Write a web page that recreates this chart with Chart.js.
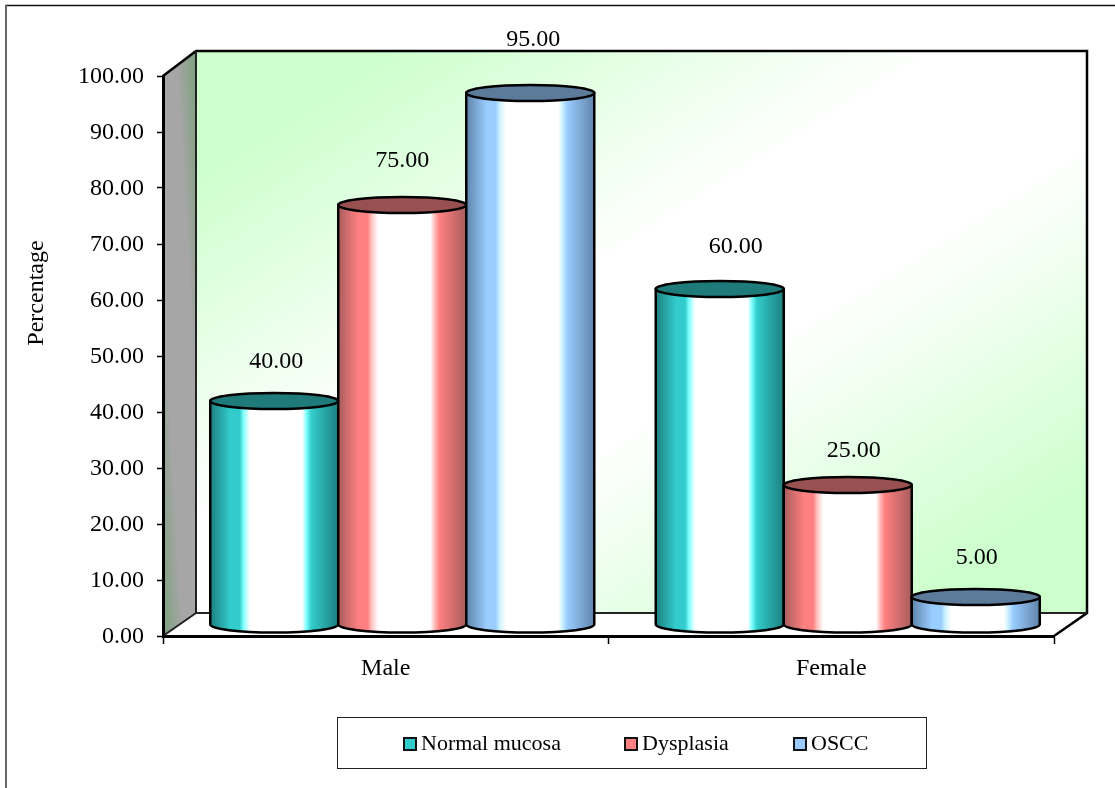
<!DOCTYPE html>
<html>
<head>
<meta charset="utf-8">
<title>Percentage by sex</title>
<script src="https://cdn.jsdelivr.net/npm/chart.js@4"></script>
<style>
    body { margin: 0; background: #fff; }
    canvas { display: block; }
</style>
</head>
<body>
<canvas id="chart" width="1115" height="788"></canvas>
<script>
// Data
const categories = ["Male", "Female"]
const seriesNames = ["Normal mucosa", "Dysplasia", "OSCC"]
const normalMucosa = [40, 60]
const dysplasia = [75, 25]
const oscc = [95, 5]

// Colours per series, same order as seriesNames
const mainColors = ["#33cccc", "#ff8080", "#99ccff"]
const edgeColors = ["#1d7f7f", "#a85c5c", "#5f84aa"]
const lightColors = ["#80ffff", "#ffc0c0", "#ccf2ff"]
const capColors = ["#1f7a7a", "#995050", "#5c7a99"]

const serif = "'Liberation Serif', 'Times New Roman', serif"
const fontSize = 24

// 3D box: how far the back wall sits from the front axes
const depthX = 33
const depthY = 24
const capRadius = 8

// Small nudges of the value labels, per dataset then per category
const labelShiftX = [[2, 16], [0, 6], [3, 1]]
const labelGap = [39, 44, 53, 42, 34, 39]

const drawWalls = (chart) => {
    const { ctx, chartArea: { left, right, top, bottom } } = chart
    const backLeft = left + depthX
    const backRight = right + depthX
    const backTop = top - depthY - 1
    const backBottom = bottom - depthY + 1

    ctx.save()

    // outer frame, only top and left show
    ctx.strokeStyle = "#111"
    ctx.lineWidth = 1.5
    ctx.beginPath()
    ctx.moveTo(5, 5.5)
    ctx.lineTo(1115, 5.5)
    ctx.stroke()
    ctx.strokeStyle = "#666"
    ctx.lineWidth = 2
    ctx.beginPath()
    ctx.moveTo(6, 5)
    ctx.lineTo(6, 788)
    ctx.stroke()

    // back wall, diagonal green - white - green
    ctx.save()
    ctx.translate(backLeft, backTop)
    ctx.scale(backRight - backLeft, backBottom - backTop)
    const wall = ctx.createLinearGradient(0, 0, 1, 1)
    wall.addColorStop(0, "#ccffcc")
    wall.addColorStop(0.1, "#ccffcc")
    wall.addColorStop(0.42, "#ffffff")
    wall.addColorStop(0.58, "#ffffff")
    wall.addColorStop(0.9, "#ccffcc")
    wall.addColorStop(1, "#ccffcc")
    ctx.fillStyle = wall
    ctx.fillRect(0, 0, 1, 1)
    ctx.restore()

    // floor
    ctx.fillStyle = "#fff"
    ctx.beginPath()
    ctx.moveTo(left, bottom)
    ctx.lineTo(right, bottom)
    ctx.lineTo(backRight, backBottom)
    ctx.lineTo(backLeft, backBottom)
    ctx.closePath()
    ctx.fill()

    // side wall, gradient stretched over its bounding box
    ctx.save()
    ctx.beginPath()
    ctx.moveTo(left, top)
    ctx.lineTo(backLeft, backTop)
    ctx.lineTo(backLeft, backBottom)
    ctx.lineTo(left, bottom)
    ctx.closePath()
    ctx.clip()
    ctx.translate(left, backTop)
    ctx.scale(depthX, bottom - backTop)
    const side = ctx.createLinearGradient(1, 0, 0, 1)
    side.addColorStop(0, "#7ba07b")
    side.addColorStop(0.3, "#a6a6a6")
    side.addColorStop(0.7, "#a6a6a6")
    side.addColorStop(1, "#7ba07b")
    ctx.fillStyle = side
    ctx.fillRect(0, 0, 1, 1)
    ctx.restore()

    // box outlines
    ctx.strokeStyle = "#000"
    ctx.lineJoin = "miter"
    ctx.lineWidth = 2.5
    ctx.beginPath()
    ctx.moveTo(left, top)
    ctx.lineTo(backLeft, backTop)
    ctx.lineTo(backRight, backTop)
    ctx.lineTo(backRight, backBottom)
    ctx.lineTo(right, bottom)
    ctx.stroke()
    ctx.strokeStyle = "#222"
    ctx.lineWidth = 2
    ctx.beginPath()
    ctx.moveTo(backLeft, backTop)
    ctx.lineTo(backLeft, backBottom)
    ctx.lineTo(backRight, backBottom)
    ctx.moveTo(backLeft, backBottom)
    ctx.lineTo(left, bottom)
    ctx.stroke()

    ctx.restore()
}

const drawCylinders = (chart) => {
    const { ctx } = chart

    ctx.save()
    chart.data.datasets.forEach((dataset, d) => {
        chart.getDatasetMeta(d).data.forEach((bar, i) => {
            const x0 = bar.x - bar.width / 2 + depthX / 2
            const x1 = bar.x + bar.width / 2 + depthX / 2
            const cx = (x0 + x1) / 2
            const rx = (x1 - x0) / 2
            const topY = bar.y - depthY / 2 + 1
            const baseY = bar.base - depthY / 2 + 1

            const body = ctx.createLinearGradient(x0, 0, x1, 0)
            body.addColorStop(0, edgeColors[d])
            body.addColorStop(0.16, mainColors[d])
            body.addColorStop(0.23, mainColors[d])
            body.addColorStop(0.26, lightColors[d])
            body.addColorStop(0.31, "#ffffff")
            body.addColorStop(0.72, "#ffffff")
            body.addColorStop(0.75, lightColors[d])
            body.addColorStop(0.79, mainColors[d])
            body.addColorStop(1, edgeColors[d])

            ctx.beginPath()
            ctx.moveTo(x0, topY)
            ctx.lineTo(x0, baseY)
            ctx.ellipse(cx, baseY, rx, capRadius, 0, Math.PI, 0, true)
            ctx.lineTo(x1, topY)
            ctx.closePath()
            ctx.fillStyle = body
            ctx.fill()
            ctx.strokeStyle = "#000"
            ctx.lineWidth = 2.5
            ctx.stroke()

            ctx.beginPath()
            ctx.ellipse(cx, topY, rx, capRadius, 0, 0, Math.PI * 2)
            ctx.fillStyle = capColors[d]
            ctx.fill()
            ctx.stroke()
        })
    })
    ctx.restore()
}

const drawValueLabels = (chart) => {
    const { ctx } = chart

    ctx.save()
    ctx.fillStyle = "#000"
    ctx.font = `${fontSize}px ${serif}`
    ctx.textAlign = "center"
    ctx.textBaseline = "middle"
    chart.data.datasets.forEach((dataset, d) => {
        chart.getDatasetMeta(d).data.forEach((bar, i) => {
            const gap = labelGap[i * 3 + d]
            const x = bar.x + depthX / 2 + labelShiftX[d][i]
            const y = bar.y - depthY / 2 + 1 - gap
            ctx.fillText(dataset.data[i].toFixed(2), x, y)
        })
    })
    ctx.restore()
}

const drawAxisTitle = (chart) => {
    const { ctx } = chart

    ctx.save()
    ctx.translate(37, 293)
    ctx.rotate(-Math.PI / 2)
    ctx.fillStyle = "#000"
    ctx.font = `24px ${serif}`
    ctx.textAlign = "center"
    ctx.textBaseline = "middle"
    ctx.fillText("Percentage", 0, 0)
    ctx.restore()
}

const drawLegend = (chart) => {
    const { ctx } = chart
    const legendX = [404, 625, 794]

    ctx.save()
    ctx.fillStyle = "#fff"
    ctx.fillRect(337.5, 717.5, 589, 51)
    ctx.strokeStyle = "#222"
    ctx.lineWidth = 1
    ctx.strokeRect(337.5, 717.5, 589, 51)

    ctx.font = `22px ${serif}`
    ctx.textBaseline = "middle"
    seriesNames.forEach((name, d) => {
        ctx.fillStyle = mainColors[d]
        ctx.strokeStyle = "#111"
        ctx.lineWidth = 2
        ctx.fillRect(legendX[d], 738, 12, 12)
        ctx.strokeRect(legendX[d], 738, 12, 12)
        ctx.fillStyle = "#000"
        ctx.fillText(name, legendX[d] + 17, 744)
    })
    ctx.restore()
}

const box3d = {
    id: "box3d",
    // tick text sits a little low against its tick mark
    afterLayout: (chart) => {
        chart.scales.y.getLabelItems().forEach((item) => { item.options.translation[1] += 1 })
    },
    beforeDraw: drawWalls,
    afterDatasetsDraw: (chart) => {
        drawCylinders(chart)
        drawValueLabels(chart)
        drawAxisTitle(chart)
        drawLegend(chart)
    }
}

const values = [normalMucosa, dysplasia, oscc]

new Chart(document.getElementById("chart"), {
    type: "bar",
    data: {
        labels: categories,
        datasets: seriesNames.map((name, d) => ({
            label: name,
            data: values[d],
            backgroundColor: "transparent",
            borderWidth: 0,
            barPercentage: 1,
            categoryPercentage: 0.862,
        })),
    },
    plugins: [box3d],
    options: {
        responsive: false,
        animation: false,
        layout: { padding: { top: 76, right: 61, left: 0, bottom: 0 } },
        plugins: {
            legend: { display: false },
            tooltip: { enabled: false },
        },
        scales: {
            x: {
                afterFit: (scale) => { scale.height = 152 },
                grid: { drawOnChartArea: false, color: "#000", tickLength: 8, tickWidth: 1.5 },
                border: { color: "#000", width: 3 },
                ticks: { color: "#000", font: { family: serif, size: fontSize }, padding: 10, maxRotation: 0 },
            },
            y: {
                min: 0,
                max: 100,
                afterFit: (scale) => { scale.width = 163 },
                grid: { drawOnChartArea: false, color: "#000", tickLength: 6, tickWidth: 1.5 },
                border: { color: "#000", width: 3 },
                ticks: {
                    stepSize: 10,
                    autoSkip: false,
                    color: "#000",
                    padding: 13,
                    font: { family: serif, size: fontSize },
                    callback: (value) => value.toFixed(2),
                },
            },
        },
    },
})
</script>
</body>
</html>
